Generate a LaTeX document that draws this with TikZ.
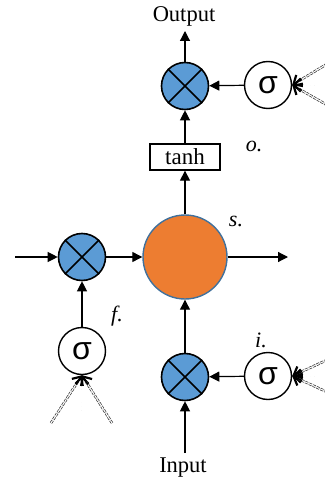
\documentclass[tikz,border=0pt]{standalone}
\usepackage{fontspec}
\setmainfont{Liberation Serif}
\newfontfamily\sigfont{Liberation Sans}
\usetikzlibrary{arrows.meta,calc}
\definecolor{mulblue}{RGB}{91,155,213}
\definecolor{sorange}{RGB}{237,125,49}
\definecolor{sedge}{RGB}{65,113,156}
\tikzset{
  mulnode/.style={circle, draw=black, line width=1.6pt, fill=mulblue, minimum size=47pt, inner sep=0pt},
  signode/.style={circle, draw=black, line width=1.4pt, fill=white, minimum size=47pt, inner sep=0pt, font=\sigfont\fontsize{32}{32}\selectfont},
  snode/.style={circle, draw=sedge, line width=1.4pt, fill=sorange, minimum size=84pt, inner sep=0pt},
  tanhbox/.style={rectangle, draw=black, line width=1.3pt, minimum width=70pt, minimum height=26pt, inner sep=0pt, font=\fontsize{23}{24}\selectfont},
  conn/.style={line width=1.2pt, -{Triangle[length=10pt,width=10pt]}},
  lbl/.style={font=\fontsize{22.5}{24}\selectfont},
  ilbl/.style={font=\itshape\fontsize{22}{22}\selectfont},
  dline/.style={draw=black!80, line width=0.7pt, double=white, double distance=1.1pt, dash pattern=on 3pt off 1.2pt},
  barb/.style={line width=1.6pt, -{Straight Barb[length=7pt,width=13pt,line width=2.2pt]}}
}
\newcommand{\crossin}[1]{\draw[line width=1.5pt] (#1.45) -- (#1.225) (#1.135) -- (#1.315);}
\begin{document}
\begin{tikzpicture}[x=1pt,y=-1pt]
\useasboundingbox (0,0) rectangle (324,481);
% nodes
\node[mulnode] (mo) at (185,86) {};
\node[signode] (so) at (268,85) {σ};
\node[tanhbox] (th) at (185,157) {tanh};
\node[snode] (s) at (185,257) {};
\node[mulnode] (mf) at (82,257) {};
\node[signode] (sf) at (82,351) {σ};
\node[mulnode] (mi) at (185,377) {};
\node[signode] (si) at (268,376) {σ};
\crossin{mo}\crossin{mf}\crossin{mi}
% texts
\node[lbl] (out) at (184,16) {Output};
\node[lbl] (inp) at (183,468) {Input};
\node[ilbl] (lo) at (254,146) {o.};
\node[ilbl] (ls) at (236,221) {s.};
\node[ilbl] (lf) at (117,316) {f.};
\node[ilbl] (li) at (261,340) {i.};
% coordinates
\coordinate (outend) at (185,31);
\coordinate (inbeg) at (185,453);
\coordinate (leftbeg) at (15,257);
\coordinate (rightend) at (288,257);
\coordinate (so1) at (327,64);
\coordinate (so2) at (327,85);
\coordinate (so3) at (327,105);
\coordinate (si1) at (327,360);
\coordinate (si2) at (327,376);
\coordinate (si3) at (327,392);
\coordinate (sf1) at (51,423);
\coordinate (sf2) at (82,423);
\coordinate (sf3) at (112,423);
\coordinate (sotip) at (so.east);
\coordinate (sitip) at (si.east);
\coordinate (sftip) at (sf.south);
% connectors
\draw[conn] (mo) -- (outend);
\draw[conn] (so) -- (mo);
\draw[conn] (th) -- (mo);
\draw[conn] (s) -- (th);
\draw[conn] (s.east) -- (rightend);
\draw[conn] (leftbeg) -- (mf);
\draw[conn] (mf) -- (s);
\draw[conn] (sf) -- (mf);
\draw[conn] (mi) -- (s);
\draw[conn] (si) -- (mi);
\draw[conn] (inbeg) -- (mi);
% dashed inputs
\foreach \g in {so,si,sf}{
  \foreach \k in {1,2,3}{
    \draw[dline] (\g\k) -- ($(\g tip)!7pt!(\g\k)$);
    \draw[barb] ($(\g tip)!11pt!(\g\k)$) -- (\g tip);
  }
}
\end{tikzpicture}
\end{document}
